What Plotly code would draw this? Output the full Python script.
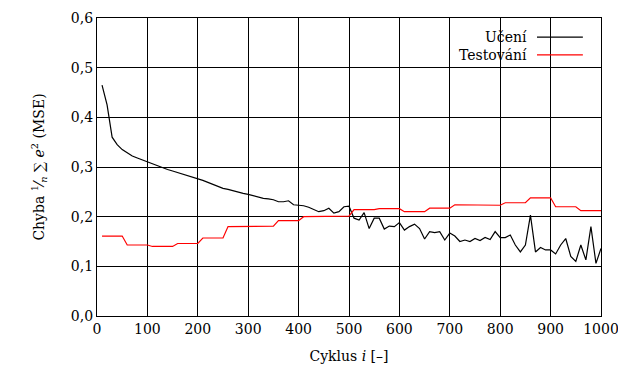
import plotly.graph_objects as go

cycles = [10, 20, 30, 40, 50, 60, 70, 80, 90, 100,
          110, 120, 130, 140, 150, 160, 170, 180, 190, 200,
          210, 220, 230, 240, 250, 260, 270, 280, 290, 300,
          310, 320, 330, 340, 350, 360, 370, 380, 390, 400,
          410, 420, 430, 440, 450, 460, 470, 480, 490, 500,
          510, 520, 530, 540, 550, 560, 570, 580, 590, 600,
          610, 620, 630, 640, 650, 660, 670, 680, 690, 700,
          710, 720, 730, 740, 750, 760, 770, 780, 790, 800,
          810, 820, 830, 840, 850, 860, 870, 880, 890, 900,
          910, 920, 930, 940, 950, 960, 970, 980, 990, 1000]

train_err = [0.465, 0.425, 0.360, 0.345, 0.335, 0.328, 0.322, 0.318, 0.314, 0.310,
             0.306, 0.302, 0.298, 0.295, 0.292, 0.289, 0.286, 0.283, 0.280, 0.277,
             0.273, 0.269, 0.265, 0.261, 0.257, 0.255, 0.252, 0.249, 0.247, 0.245,
             0.242, 0.239, 0.237, 0.236, 0.234, 0.230, 0.230, 0.232, 0.224, 0.223,
             0.222, 0.219, 0.214, 0.210, 0.212, 0.217, 0.207, 0.210, 0.220, 0.221,
             0.197, 0.193, 0.208, 0.176, 0.197, 0.197, 0.175, 0.181, 0.180, 0.188,
             0.173, 0.180, 0.185, 0.176, 0.155, 0.170, 0.168, 0.170, 0.153, 0.167,
             0.161, 0.150, 0.153, 0.150, 0.156, 0.152, 0.158, 0.154, 0.170, 0.158,
             0.158, 0.163, 0.143, 0.129, 0.143, 0.203, 0.129, 0.138, 0.133, 0.133,
             0.125, 0.143, 0.156, 0.120, 0.110, 0.143, 0.113, 0.180, 0.106, 0.136]

test_err = [0.161, 0.161, 0.161, 0.161, 0.161, 0.143, 0.143, 0.143, 0.143, 0.143,
            0.140, 0.140, 0.140, 0.140, 0.140, 0.146, 0.146, 0.146, 0.146, 0.146,
            0.157, 0.157, 0.157, 0.157, 0.157, 0.180, 0.180, 0.180, 0.180, 0.180,
            0.181, 0.181, 0.181, 0.181, 0.181, 0.192, 0.192, 0.192, 0.192, 0.192,
            0.200, 0.200, 0.200, 0.200, 0.200, 0.201, 0.201, 0.201, 0.201, 0.201,
            0.214, 0.214, 0.214, 0.214, 0.214, 0.216, 0.216, 0.216, 0.216, 0.216,
            0.210, 0.210, 0.210, 0.210, 0.210, 0.217, 0.217, 0.217, 0.217, 0.217,
            0.224, 0.224, 0.224, 0.224, 0.224, 0.223, 0.223, 0.223, 0.223, 0.223,
            0.228, 0.228, 0.228, 0.228, 0.228, 0.238, 0.238, 0.238, 0.238, 0.238,
            0.220, 0.220, 0.220, 0.220, 0.220, 0.212, 0.212, 0.212, 0.212, 0.212]

series_names = ["Učení", "Testování"]
series_colors = ["#000000", "#ff0000"]

x_ticks = [0, 100, 200, 300, 400, 500, 600, 700, 800, 900, 1000]
y_ticks = [0.0, 0.1, 0.2, 0.3, 0.4, 0.5, 0.6]

FONT = "DejaVu Serif"
FS = 14

fig = go.Figure()
fig.add_trace(go.Scatter(x=cycles, y=train_err, mode="lines", name=series_names[0],
                         line=dict(color=series_colors[0], width=1.2), showlegend=False))
fig.add_trace(go.Scatter(x=cycles, y=test_err, mode="lines", name=series_names[1],
                         line=dict(color=series_colors[1], width=1.2), showlegend=False))

# legend (text left of line sample, like the original)
fig.add_shape(type="rect", xref="paper", yref="paper", x0=0.617, x1=0.994, y0=0.852, y1=0.975,
              fillcolor="white", line=dict(width=0), layer="between")
legend_y = [0.936, 0.876]
for name, col, ly in zip(series_names, series_colors, legend_y):
    fig.add_annotation(x=0.857, y=ly, xref="paper", yref="paper", text=name, showarrow=False,
                       xanchor="right", yanchor="middle", font=dict(family=FONT, size=FS, color="black"))
    fig.add_shape(type="line", xref="paper", yref="paper", x0=0.873, x1=0.964, y0=ly, y1=ly,
                  line=dict(color=col, width=1.2))

axis_common = dict(showline=True, linecolor="black", linewidth=1.3, mirror="ticks",
                   ticks="inside", ticklen=5, tickcolor="black", showgrid=True,
                   gridcolor="black", gridwidth=1, zeroline=False, automargin=False,
                   tickfont=dict(family=FONT, size=FS, color="black"))

fig.update_xaxes(range=[0, 1000], tickvals=x_ticks, ticktext=[str(v) for v in x_ticks],
                 title=dict(text="Cyklus <i>i</i> [–]", font=dict(family=FONT, size=FS, color="black"),
                            standoff=15),
                 **axis_common)
fig.update_yaxes(range=[0, 0.6], tickvals=y_ticks, tickformat=".1f",
                 title=dict(text="Chyba <sup>1</sup>⁄<sub><i>n</i></sub> ∑ <i>e</i><sup>2</sup> (MSE)",
                            font=dict(family=FONT, size=FS, color="black"), standoff=22),
                 **axis_common)

fig.update_layout(width=618, height=364, margin=dict(l=89, r=25, t=10, b=56, autoexpand=False),
                  plot_bgcolor="white", paper_bgcolor="white", separators=",.",
                  font=dict(family=FONT, size=FS, color="black"))

fig.write_html("out.html")
